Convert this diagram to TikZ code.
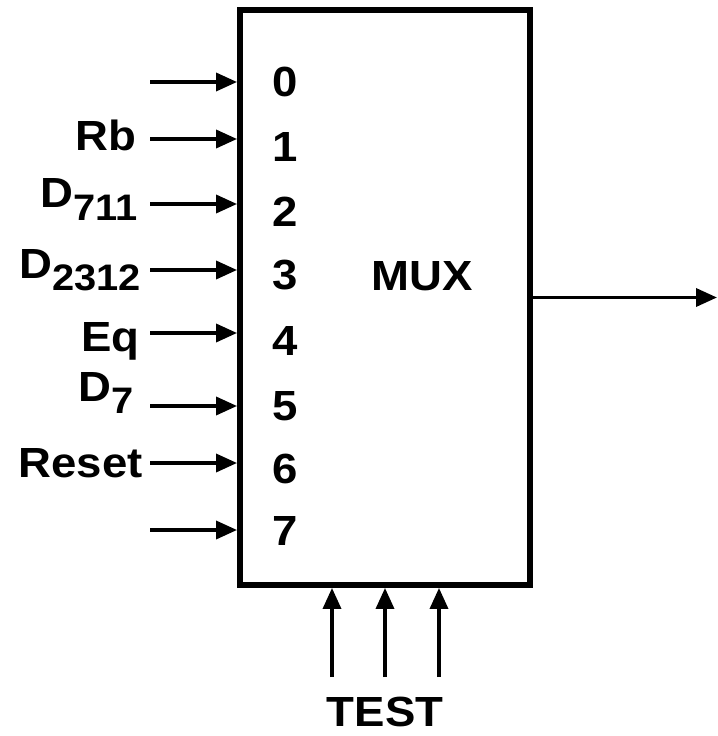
\documentclass[tikz,border=0pt]{standalone}
\usepackage{fontspec}
\setmainfont{Liberation Sans}[FakeStretch=1.08]
\usetikzlibrary{arrows.meta}
\tikzset{
  sig/.style={-{Triangle[length=0.42cm,width=0.36cm]}, line width=2pt},
  lbl/.style={font=\fontsize{24}{28}\selectfont\bfseries, inner sep=0pt},
}
\newcommand\lowsub[1]{\raisebox{-7pt}{\fontsize{21}{25}\selectfont #1}}

\begin{document}
\begin{tikzpicture}[x=0.02cm, y=-0.02cm]
  \useasboundingbox (0,0) rectangle (717,736);
  % Multiplexer box
  \node[draw, line width=3.4pt, minimum width=5.8cm, minimum height=11.5cm, inner sep=0pt] (mux) at (385,297.5) {};
  \node[lbl] (muxname) at (422,276) {MUX};
  % Data inputs and their numbers
  \foreach \i/\y/\ny in {0/82/97,1/139/162,2/204/227,3/270/290,4/333/355,5/406/420,6/463/483,7/530/545}{
    \coordinate (in\i) at (150,\y);
    \node[lbl, anchor=base] (num\i) at (285,\ny) {\i};
    \draw[sig] (in\i) -- (in\i -| mux.west);
  }
  % Input labels
  \node[lbl, anchor=base east] (rb) at (137,151) {Rb};
  \node[lbl, anchor=base east] (d711) at (138,208) {D\lowsub{711}};
  \node[lbl, anchor=base east] (d2312) at (141,278) {D\lowsub{2312}};
  \node[lbl, anchor=base east] (eq) at (140,351) {Eq};
  \node[lbl, anchor=base east] (d7) at (134,401) {D\lowsub{7}};
  \node[lbl, anchor=base east] (reset) at (143,477) {Reset};
  % Output
  \coordinate (out) at (717,297.5);
  \draw[sig] (mux.east) -- (out);
  % Select lines
  \foreach \j/\x in {0/332,1/385,2/439}{
    \coordinate (sel\j) at (\x,677);
    \draw[sig] (sel\j) -- (sel\j |- mux.south);
  }
  \node[lbl, anchor=base] (test) at (385,726) {TEST};
\end{tikzpicture}
\end{document}
